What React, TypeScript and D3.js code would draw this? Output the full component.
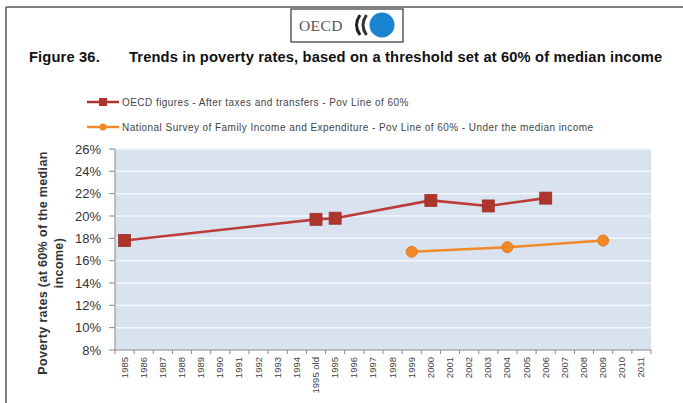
import * as d3 from 'd3';

// x categories as printed under the axis
const categories = [
  '1985', '1986', '1987', '1988', '1989', '1990', '1991', '1992', '1993', '1994',
  '1995 old', '1995', '1996', '1997', '1998', '1999', '2000', '2001', '2002', '2003',
  '2004', '2005', '2006', '2007', '2008', '2009', '2010', '2011',
];

const yTicks = [8, 10, 12, 14, 16, 18, 20, 22, 24, 26];

const oecdYears = ['1985', '1995 old', '1995', '2000', '2003', '2006'];
const oecdRates = [17.8, 19.7, 19.8, 21.4, 20.9, 21.6];

const surveyYears = ['1999', '2004', '2009'];
const surveyRates = [16.8, 17.2, 17.8];

const legendLabels = [
  'OECD figures - After taxes and transfers - Pov Line of 60%',
  'National Survey of Family Income and Expenditure - Pov Line of 60% - Under the median income',
];

const W = 683;
const H = 403;
const plot = { left: 115, right: 651, top: 149, bottom: 350 };

const RED = '#ad352c';
const RED_LINE = '#bb3c38';
const ORANGE = '#f08a28';

const App = () => {
  const x = d3.scaleBand<string>().domain(categories).range([plot.left, plot.right]).padding(0);
  const y = d3.scaleLinear().domain([8, 26]).range([plot.bottom, plot.top]);
  const cx = (c: string) => (x(c) as number) + x.bandwidth() / 2;

  const oecdPts = oecdYears.map((c, i) => [cx(c), y(oecdRates[i])] as [number, number]);
  const surveyPts = surveyYears.map((c, i) => [cx(c), y(surveyRates[i])] as [number, number]);
  const line = d3.line();

  const boundaries = categories.map((c) => x(c) as number).concat([plot.right]);
  const font = 'Liberation Sans, Arial, sans-serif';

  return (
    <svg width={W} height={H} style={{ position: 'absolute', left: 0, top: 0, background: '#fff' }}
      fontFamily={font}>
      {/* page frame */}
      <line x1={6} y1={7} x2={W} y2={7} stroke="#5a5a5a" strokeWidth={1.5} />
      <line x1={6} y1={7} x2={6} y2={H} stroke="#5a5a5a" strokeWidth={1.5} />

      {/* logo */}
      <rect x={291} y={9} width={112} height={33} fill="#fff" stroke="#333" strokeWidth={1.2} />
      <text x={299} y={31} fontFamily="Liberation Serif, Times New Roman, serif" fontSize={15.5}
        fill="#555" letterSpacing={0.4}>OECD</text>
      <path d="M360,15 Q353,25 360,35" fill="none" stroke="#222" strokeWidth={3} />
      <path d="M366.5,15 Q359.5,25 366.5,35" fill="none" stroke="#333" strokeWidth={3} />
      <circle cx={382} cy={25} r={12.5} fill="#1a82cf" />

      {/* title */}
      <text x={29} y={62} fontSize={14.7} fontWeight="bold" fill="#111" letterSpacing={0.15}>Figure 36.</text>
      <text x={129} y={62} fontSize={14.7} fontWeight="bold" fill="#111" letterSpacing={0.15}>
        Trends in poverty rates, based on a threshold set at 60% of median income
      </text>

      {/* legend */}
      {[RED, ORANGE].map((col, i) => {
        const ly = 102 + i * 25;
        return (
          <g key={i}>
            <line x1={87} x2={119} y1={ly} y2={ly} stroke={col} strokeWidth={2.5} />
            {i === 0
              ? <rect x={99} y={ly - 4} width={8} height={8} fill={col} />
              : <circle cx={103} cy={ly} r={3.5} fill={col} />}
            <text x={122} y={ly + 3.5} fontSize={10} fill="#444" letterSpacing={0.45}>{legendLabels[i]}</text>
          </g>
        );
      })}

      {/* plot background and grid */}
      <rect x={plot.left} y={plot.top} width={plot.right - plot.left} height={plot.bottom - plot.top}
        fill="#d9e2ef" />
      {yTicks.filter((t) => t > 8).map((t) => (
        <line key={t} x1={plot.left} x2={plot.right} y1={y(t)} y2={y(t)} stroke="#f4f7fb" strokeWidth={1.5} />
      ))}

      {/* y axis */}
      <line x1={plot.left} x2={plot.left} y1={plot.top} y2={plot.bottom} stroke="#8a8a8a" />
      {yTicks.map((t) => (
        <g key={t}>
          <line x1={plot.left - 6} x2={plot.left} y1={y(t)} y2={y(t)} stroke="#8a8a8a" />
          <text x={101} y={y(t) + 4.5} fontSize={13} textAnchor="end" fill="#333">{t}%</text>
        </g>
      ))}
      <g transform={`translate(47,263) rotate(-90)`}>
        <text x={0} y={0} fontSize={12.5} fontWeight="bold" textAnchor="middle" fill="#333" letterSpacing={0.35}>
          Poverty rates (at 60% of the median
        </text>
        <text x={0} y={16} fontSize={12.5} fontWeight="bold" textAnchor="middle" fill="#333" letterSpacing={0.35}>income)</text>
      </g>

      {/* x axis */}
      <line x1={plot.left} x2={plot.right} y1={plot.bottom} y2={plot.bottom} stroke="#8a8a8a" />
      {boundaries.map((b, i) => (
        <line key={i} x1={b} x2={b} y1={plot.bottom} y2={plot.bottom + 4} stroke="#8a8a8a" />
      ))}
      {categories.map((c) => (
        <text key={c} transform={`translate(${cx(c) + 3},${plot.bottom + 7}) rotate(-90)`}
          fontSize={9.5} textAnchor="end" fill="#444">{c}</text>
      ))}

      {/* series */}
      <path d={line(oecdPts) ?? ''} fill="none" stroke={RED_LINE} strokeWidth={2.6} />
      {oecdPts.map(([px, py], i) => (
        <rect key={i} x={px - 6} y={py - 6} width={12} height={12} fill={RED} stroke="#9c2f27" strokeWidth={0.8} />
      ))}
      <path d={line(surveyPts) ?? ''} fill="none" stroke={ORANGE} strokeWidth={2.6} />
      {surveyPts.map(([px, py], i) => (
        <circle key={i} cx={px} cy={py} r={5.5} fill={ORANGE} stroke="#e57a1c" strokeWidth={1} />
      ))}
    </svg>
  );
};

export default App;
